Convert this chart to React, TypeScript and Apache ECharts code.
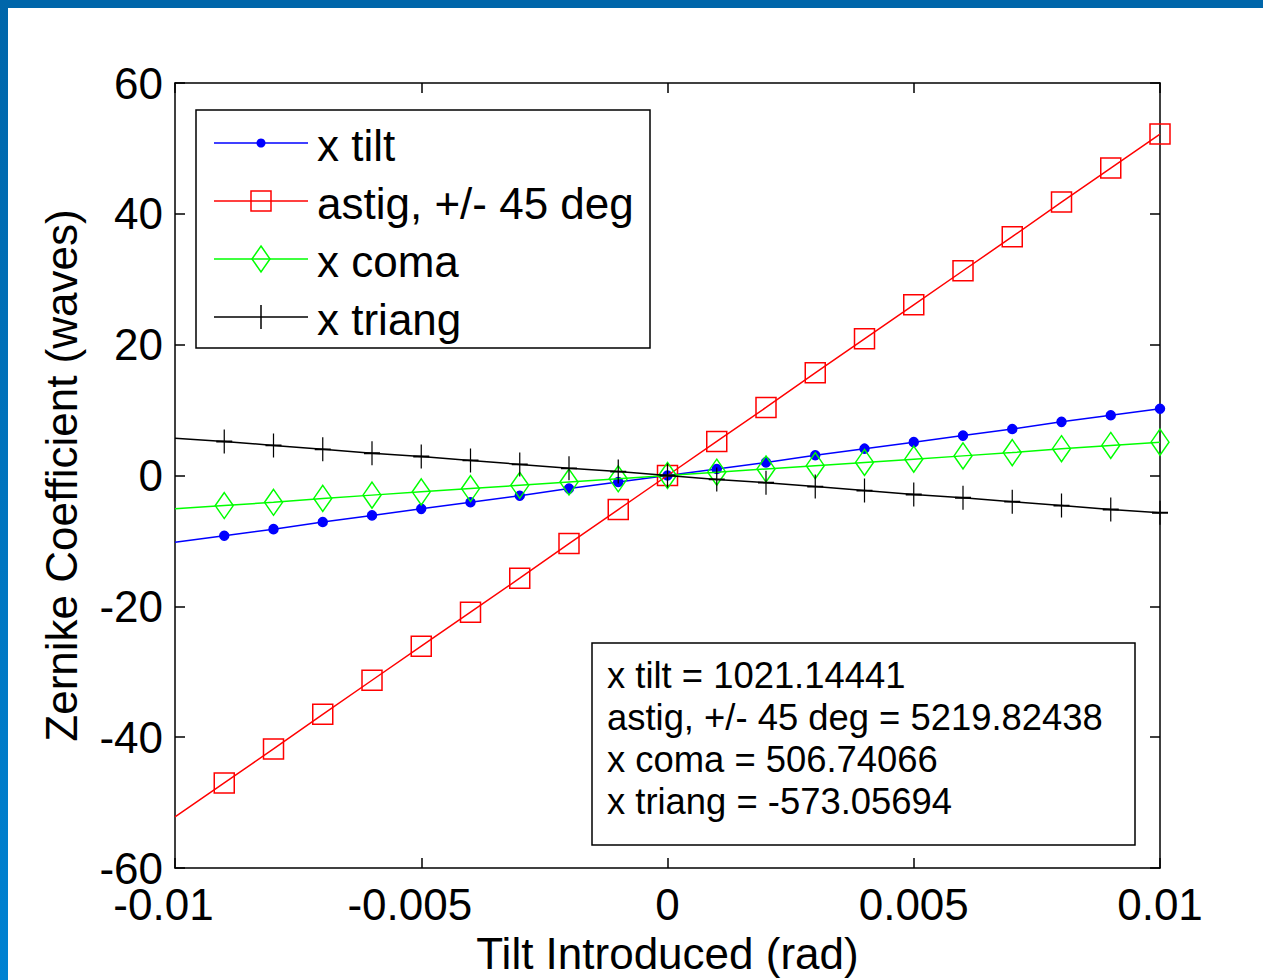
import React, { useEffect, useRef } from "react";
import * as echarts from "echarts";

// ---- data ----
const xValues = [
  -0.01, -0.009, -0.008, -0.007, -0.006, -0.005, -0.004, -0.003, -0.002, -0.001, 0,
  0.001, 0.002, 0.003, 0.004, 0.005, 0.006, 0.007, 0.008, 0.009, 0.01,
];
const tiltValues = [
  -10.2, -9.2, -8.2, -7.1, -6.1, -5.1, -4.1, -3.1, -2.0, -1.0, 0,
  1.0, 2.0, 3.1, 4.1, 5.1, 6.1, 7.1, 8.2, 9.2, 10.2,
];
const astigValues = [
  -52.2, -47.0, -41.8, -36.5, -31.3, -26.1, -20.9, -15.7, -10.4, -5.2, 0,
  5.2, 10.4, 15.7, 20.9, 26.1, 31.3, 36.5, 41.8, 47.0, 52.2,
];
const comaValues = [
  -5.1, -4.6, -4.1, -3.5, -3.0, -2.5, -2.0, -1.5, -1.0, -0.5, 0,
  0.5, 1.0, 1.5, 2.0, 2.5, 3.0, 3.5, 4.1, 4.6, 5.1,
];
const triangValues = [
  5.7, 5.2, 4.6, 4.0, 3.4, 2.9, 2.3, 1.7, 1.1, 0.6, 0,
  -0.6, -1.1, -1.7, -2.3, -2.9, -3.4, -4.0, -4.6, -5.2, -5.7,
];
const seriesNames = ["x tilt", "astig, +/- 45 deg", "x coma", "x triang"];
const fitValues = ["1021.14441", "5219.82438", "506.74066", "-573.05694"];
const xTitle = "Tilt Introduced (rad)";
const yTitle = "Zernike Coefficient (waves)";

const FONT = '"Liberation Sans", Arial, Helvetica, sans-serif';
const PLUS = "path://M8,0L8,24M0,12L16,12";

function buildData(vals: number[]) {
  return xValues.map((x, i) =>
    i === 0 ? { value: [x, vals[i]], symbol: "none" } : [x, vals[i]]
  );
}

export default function App() {
  const ref = useRef<HTMLDivElement>(null);

  useEffect(() => {
    if (!ref.current) return;
    const chart = echarts.init(ref.current, null, { renderer: "svg" });

    const colors = ["#0000ff", "#ff0000", "#00ff00", "#000000"];
    const symbols: any[] = ["circle", "rect", "diamond", PLUS];
    const sizes: any[] = [9, 20, [18, 26], [16, 24]];
    const fills = ["#0000ff", "transparent", "transparent", "transparent"];
    const valueSets = [tiltValues, astigValues, comaValues, triangValues];

    const series = valueSets.map((vals, k) => ({
      name: seriesNames[k],
      type: "line",
      data: buildData(vals),
      symbol: symbols[k],
      symbolSize: sizes[k],
      showAllSymbol: true,
      lineStyle: { color: colors[k], width: 1.5 },
      itemStyle: { color: fills[k], borderColor: colors[k], borderWidth: 1.5 },
      emphasis: { disabled: true },
      z: 3 + k,
    }));

    // legend drawn as graphic
    const legendRowsY = [143, 201, 259, 317];
    const legendEls: any[] = [
      {
        type: "rect",
        shape: { x: 196, y: 110, width: 454, height: 238 },
        style: { fill: "#fff", stroke: "#000", lineWidth: 1.5 },
        z: 100,
      },
    ];
    legendRowsY.forEach((y, k) => {
      legendEls.push({
        type: "line",
        shape: { x1: 214, y1: y, x2: 308, y2: y },
        style: { stroke: colors[k], lineWidth: 1.5 },
        z: 101,
      });
      if (k === 0) {
        legendEls.push({ type: "circle", shape: { cx: 261, cy: y, r: 4.5 }, style: { fill: colors[k] }, z: 102 });
      } else if (k === 1) {
        legendEls.push({ type: "rect", shape: { x: 251, y: y - 10, width: 20, height: 20 }, style: { fill: "none", stroke: colors[k], lineWidth: 1.5 }, z: 102 });
      } else if (k === 2) {
        legendEls.push({ type: "polygon", shape: { points: [[261, y - 13], [270, y], [261, y + 13], [252, y]] }, style: { fill: "none", stroke: colors[k], lineWidth: 1.5 }, z: 102 });
      } else {
        legendEls.push({ type: "line", shape: { x1: 261, y1: y - 12, x2: 261, y2: y + 12 }, style: { stroke: colors[k], lineWidth: 1.5 }, z: 102 });
      }
      legendEls.push({
        type: "text",
        x: 317,
        y: y + 2,
        style: { text: seriesNames[k], fill: "#000", font: `44px ${FONT}`, verticalAlign: "middle", align: "left" },
        z: 102,
      });
    });

    // fit annotation box
    const annotY = [675, 717, 759, 801];
    const annotEls: any[] = [
      {
        type: "rect",
        shape: { x: 592, y: 643, width: 543, height: 202 },
        style: { fill: "#fff", stroke: "#000", lineWidth: 1.5 },
        z: 100,
      },
    ];
    annotY.forEach((y, k) => {
      annotEls.push({
        type: "text",
        x: 607,
        y,
        style: { text: `${seriesNames[k]} = ${fitValues[k]}`, fill: "#000", font: `36.4px ${FONT}`, verticalAlign: "middle", align: "left" },
        z: 101,
      });
    });

    const frameEls: any[] = [
      { type: "rect", shape: { x: 0, y: 0, width: 1263, height: 8 }, style: { fill: "#0066aa" }, z: 200 },
      {
        type: "rect",
        shape: { x: 0, y: 0, width: 8, height: 980 },
        style: {
          fill: new echarts.graphic.LinearGradient(0, 0, 0, 1, [
            { offset: 0, color: "#0066aa" },
            { offset: 1, color: "#0082d2" },
          ]),
        },
        z: 200,
      },
    ];

    const xFmt = (v: number) => {
      if (Math.abs(v) < 1e-12) return "{p|0}";
      const s = String(parseFloat(v.toFixed(4)));
      return v < 0 ? `{n|${s}}` : `{p|${s}}`;
    };
    const labelText = { fontSize: 44, fontFamily: FONT, color: "#000", lineHeight: 30 };
    const axisCommon = {
      type: "value",
      axisLine: { show: true, onZero: false, lineStyle: { color: "#000", width: 1.5 } },
      axisTick: { show: true, inside: true, length: 10, lineStyle: { color: "#000", width: 1.5 } },
      splitLine: { show: false },
    };

    chart.setOption({
      animation: false,
      backgroundColor: "#fff",
      grid: { left: 175, top: 83, right: 103, bottom: 108, containLabel: false },
      xAxis: [
        {
          ...axisCommon,
          position: "bottom",
          min: -0.01,
          max: 0.01,
          interval: 0.005,
          axisLabel: {
            show: true,
            formatter: xFmt,
            ...labelText,
            margin: 21,
            rich: {
              n: { ...labelText, padding: [0, 23, 0, 0] },
              p: { ...labelText },
            },
          },
          name: xTitle,
          nameLocation: "middle",
          nameGap: 63,
          nameTextStyle: { fontSize: 44, fontFamily: FONT, color: "#000" },
        },
        {
          ...axisCommon,
          position: "top",
          min: -0.01,
          max: 0.01,
          interval: 0.005,
          axisLabel: { show: false },
        },
      ],
      yAxis: [
        {
          ...axisCommon,
          position: "left",
          min: -60,
          max: 60,
          interval: 20,
          axisLabel: { show: true, ...labelText, margin: 12 },
          name: yTitle,
          nameLocation: "middle",
          nameGap: 92,
          nameRotate: 90,
          nameTextStyle: { fontSize: 44, fontFamily: FONT, color: "#000" },
        },
        {
          ...axisCommon,
          position: "right",
          min: -60,
          max: 60,
          interval: 20,
          axisLabel: { show: false },
        },
      ],
      legend: { show: false },
      series,
      graphic: [...frameEls, ...legendEls, ...annotEls],
    });

    return () => chart.dispose();
  }, []);

  return (
    <div
      ref={ref}
      style={{ position: "absolute", left: 0, top: 0, width: 1263, height: 980, background: "#fff" }}
    />
  );
}
